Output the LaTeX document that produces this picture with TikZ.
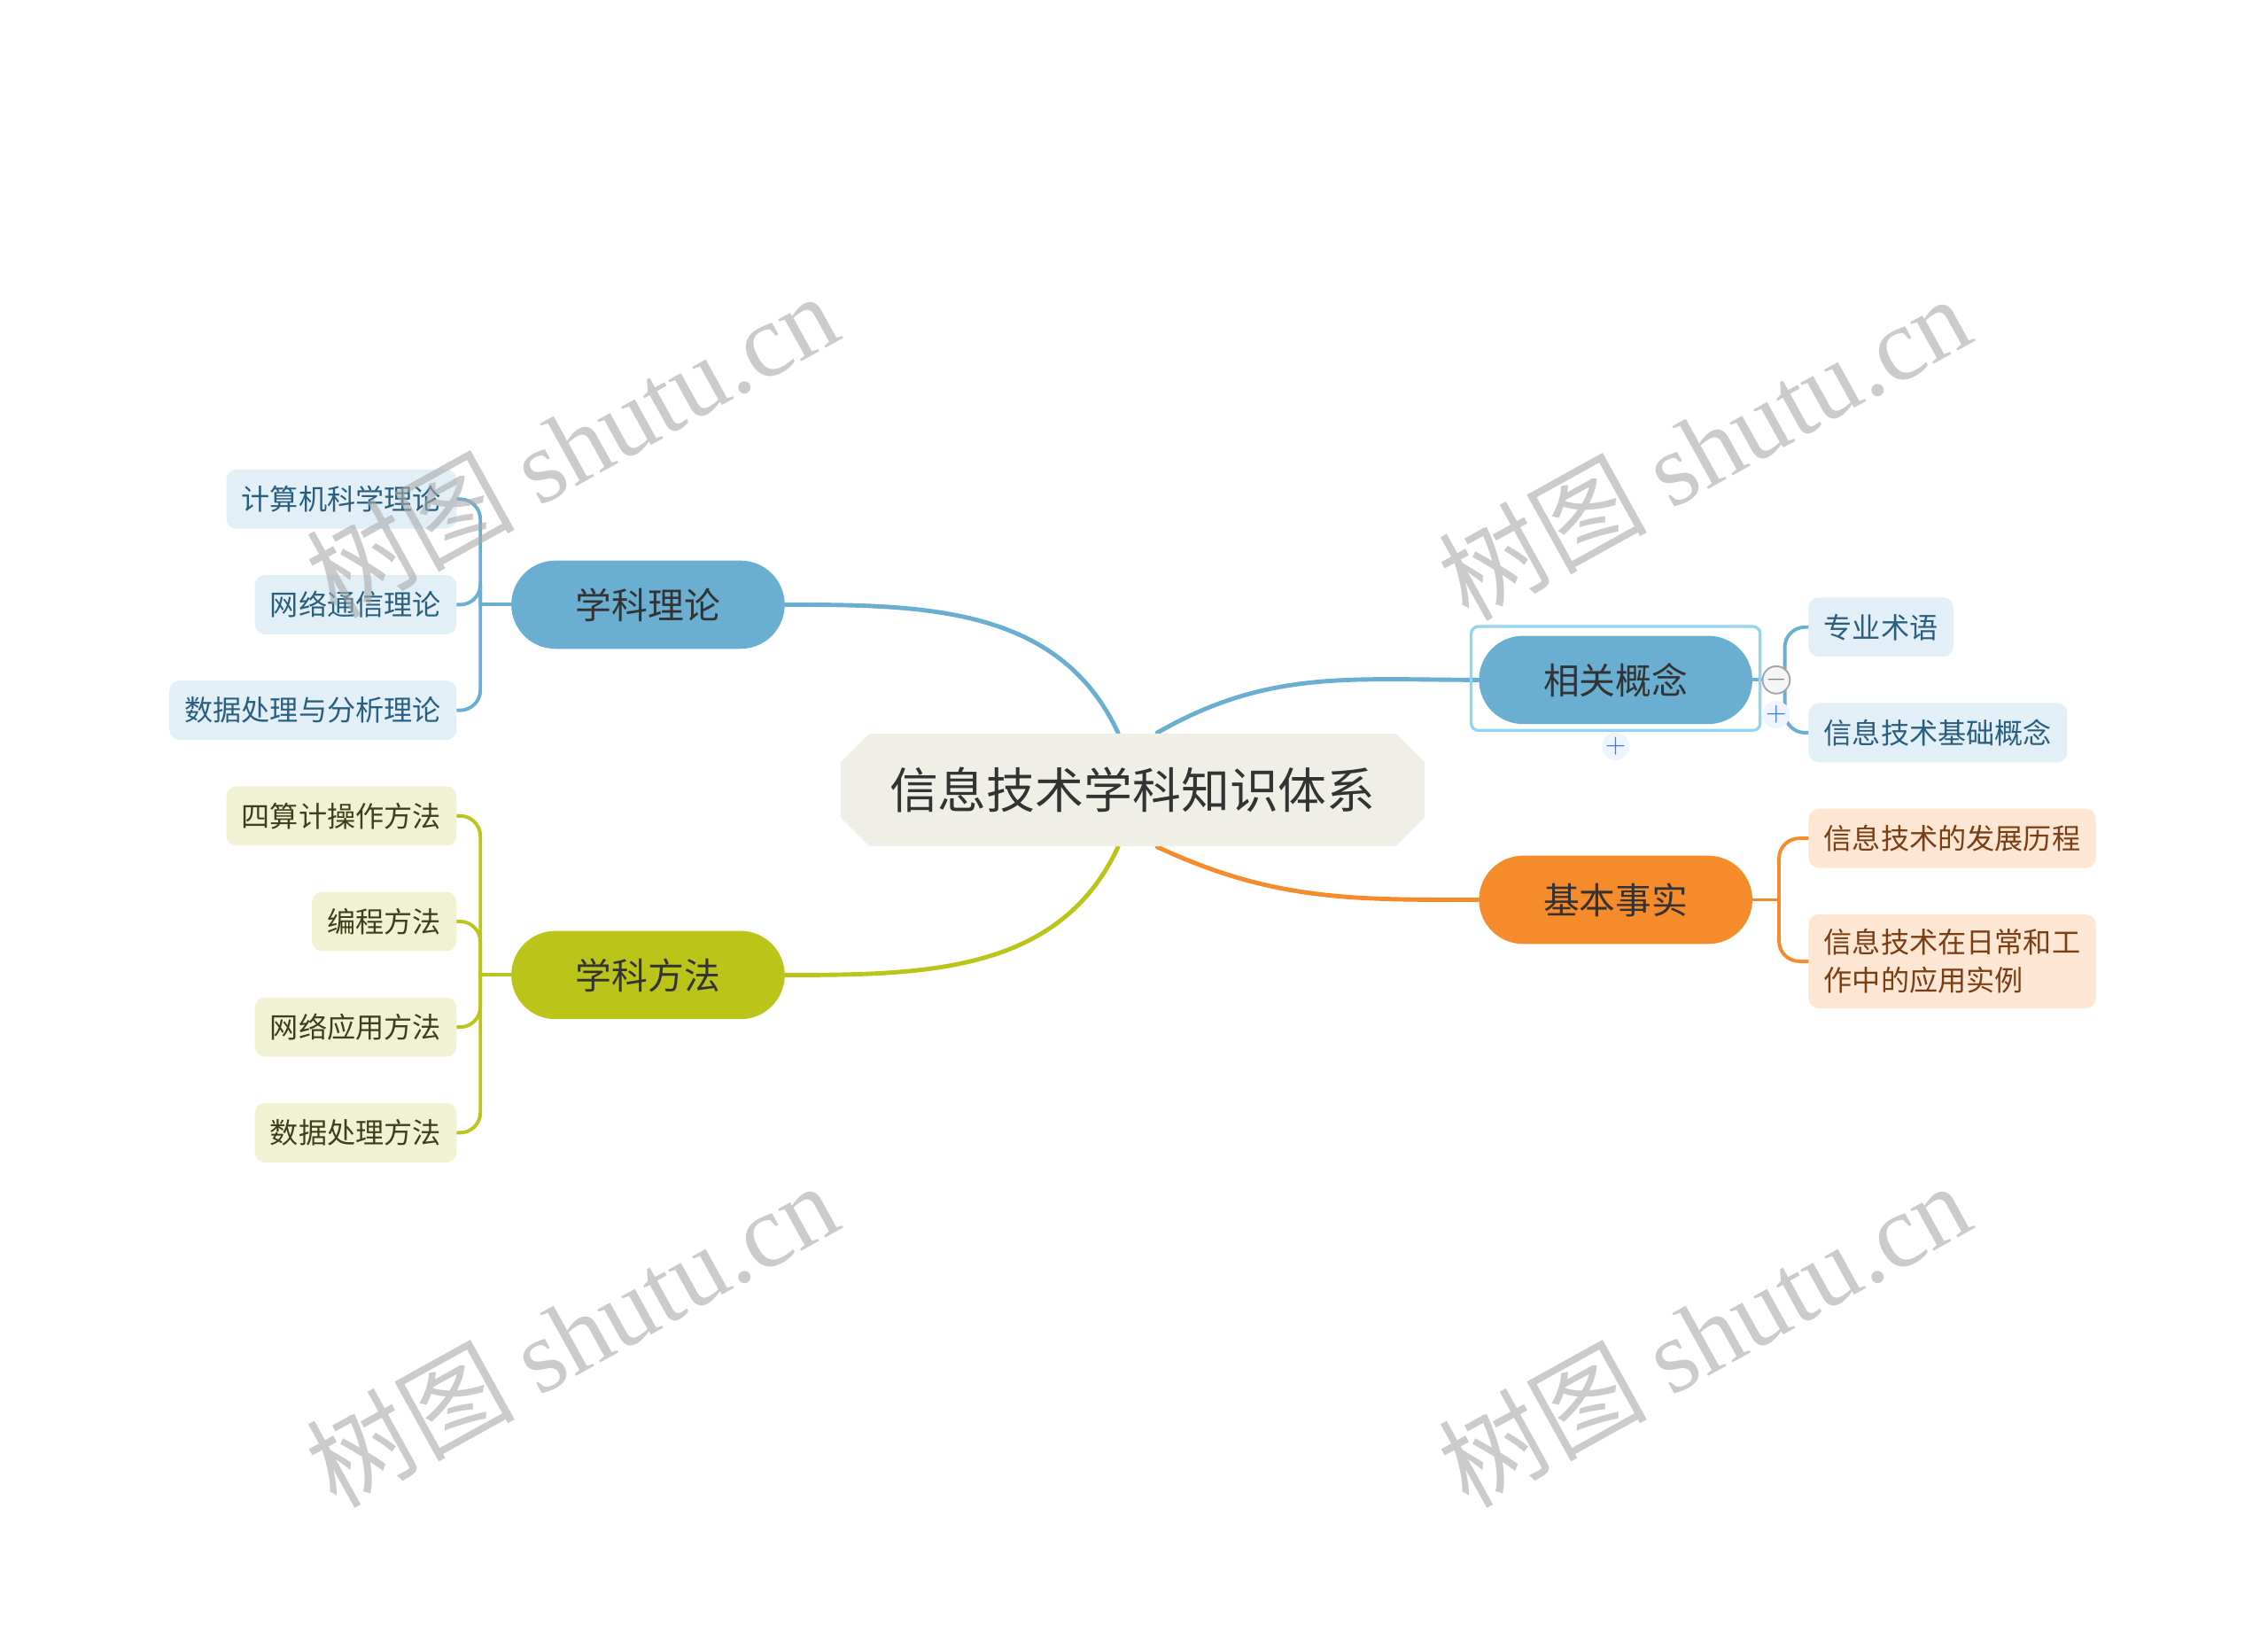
\documentclass[tikz,border=0pt]{standalone}
\usepackage{fontspec}
\usepackage{tikz}
\usetikzlibrary{calc,positioning,shapes.misc,backgrounds}
\newfontfamily\cjk{Noto Sans CJK SC}
\newfontfamily\wmserif{Liberation Serif}
\definecolor{rootfill}{HTML}{EFEFE8}
\definecolor{bluemain}{HTML}{6AAED1}
\definecolor{greenmain}{HTML}{BBC418}
\definecolor{orangemain}{HTML}{F68B2B}
\definecolor{blueleaf}{HTML}{E2EFF7}
\definecolor{greenleaf}{HTML}{F1F2D3}
\definecolor{orangeleaf}{HTML}{FDE6D4}
\definecolor{bluetext}{HTML}{2A5E7E}
\definecolor{greentext}{HTML}{3E3E1C}
\definecolor{orangetext}{HTML}{7A3E12}
\definecolor{maintext}{HTML}{333333}
\definecolor{selbox}{HTML}{90D4F8}
\definecolor{plusbg}{HTML}{EEF3FD}
\definecolor{plusblue}{HTML}{3B7DE0}
\definecolor{wmgray}{HTML}{A9A9A9}
\tikzset{
  root/.style={chamfered rectangle, chamfered rectangle xsep=5pt, chamfered rectangle ysep=5pt,
    fill=rootfill, minimum width=202pt, minimum height=39pt, inner sep=0pt,
    font=\cjk\fontsize{16.8}{20}\selectfont, text=maintext},
  main/.style={rounded corners=15.25pt, minimum width=94.5pt, minimum height=30.5pt, inner sep=0pt,
    font=\cjk\fontsize{12.5}{15}\selectfont, text=maintext},
  leaf/.style={rounded corners=3.5pt, minimum height=20.5pt, inner xsep=5.3pt, inner ysep=0pt,
    font=\cjk\fontsize{9.85}{13}\selectfont},
  bleaf/.style={leaf, fill=blueleaf, text=bluetext},
  gleaf/.style={leaf, fill=greenleaf, text=greentext},
  oleaf/.style={leaf, fill=orangeleaf, text=orangetext},
  link/.style={line width=1.5pt, line cap=round},
  fork/.style={line width=1.2pt, line cap=round, rounded corners=7pt},
  fold/.style={circle, draw=gray!70, fill=gray!8, line width=0.6pt, minimum size=9pt, inner sep=0pt,
    text=gray, font=\small},
  plus/.style={circle, fill=plusbg, minimum size=9pt, inner sep=0pt, text=plusblue, font=\small},
  wm/.style={text=wmgray, text opacity=0.6, rotate=29, font=\cjk\fontsize{36}{40}\selectfont},
}
\begin{document}
\begin{tikzpicture}[x=0.5pt, y=-0.5pt]
  \useasboundingbox (0,0) rectangle (1568,1128.8);
  % centre and main branches
  \node[root] (root) at (783,546) {信息技术学科知识体系};
  \node[main, fill=bluemain] (theory) at (448,418) {学科理论};
  \node[main, fill=greenmain] (method) at (448,674) {学科方法};
  \node[main, fill=bluemain] (concept) at (1117,470) {相关概念};
  \node[main, fill=orangemain] (fact) at (1117,622) {基本事实};
  % leaves
  \foreach \y/\txt [count=\i] in {345/计算机科学理论, 418/网络通信理论, 491/数据处理与分析理论}
    \node[bleaf, anchor=east] (theory\i) at (316,\y) {\txt};
  \foreach \y/\txt [count=\i] in {564/四算计操作方法, 637/编程方法, 710/网络应用方法, 783/数据处理方法}
    \node[gleaf, anchor=east] (method\i) at (316,\y) {\txt};
  \node[bleaf, anchor=west] (concept1) at (1250,433.5) {专业术语};
  \node[bleaf, anchor=west] (concept2) at (1250,506.5) {信息技术基础概念};
  \node[oleaf, anchor=west] (fact1) at (1250,579.5) {信息技术的发展历程};
  \node[oleaf, anchor=west, minimum height=32.5pt, align=left] (fact2) at (1250,664.5)
    {信息技术在日常和工\\作中的应用实例};
  % selection frame and buttons
  \draw[selbox, line width=1pt, rounded corners=2.5pt]
    ($(concept.north west)+(-5,-6)$) rectangle ($(concept.south east)+(5,4)$);
  \node[fold] (foldc) at (1228,470) {$-$};
  \node[plus] (addc) at (1228,494) {+};
  \node[plus] (adds) at (1117,516) {+};
  % connectors
  \begin{scope}[on background layer]
    \draw[link, bluemain] ($(root.north)+(-10,0)$) to[out=115, in=0] (theory.east);
    \draw[link, bluemain] ($(root.north)+(17,0)$) to[out=30, in=180] (concept.west);
    \draw[link, greenmain] ($(root.south)+(-10,0)$) to[out=-115, in=0] (method.east);
    \draw[link, orangemain] ($(root.south)+(17,0)$) to[out=-25, in=180] (fact.west);
    \coordinate (tj) at ($(theory.west)+(-21,0)$);
    \draw[fork, bluemain] (theory.west) -- (tj);
    \foreach \i in {1,2,3}
      \draw[fork, bluemain] (tj) |- (theory\i.east);
    \coordinate (mj) at ($(method.west)+(-21,0)$);
    \draw[fork, greenmain] (method.west) -- (mj);
    \foreach \i in {1,...,4}
      \draw[fork, greenmain] (mj) |- (method\i.east);
    \coordinate (cj) at ($(concept.east)+(22,0)$);
    \draw[fork, bluemain] (concept.east) -- (cj);
    \foreach \i in {1,2}
      \draw[fork, bluemain] (cj) |- (concept\i.west);
    \coordinate (fj) at ($(fact.east)+(18,0)$);
    \draw[fork, orangemain] (fact.east) -- (fj);
    \foreach \i in {1,2}
      \draw[fork, orangemain] (fj) |- (fact\i.west);
  \end{scope}
  % watermarks
  \foreach \wx/\wy [count=\k] in {395/307, 1178/309, 395/922, 1178/922}
    \node[wm] (wm\k) at (\wx,\wy) {树图 {\wmserif shutu.cn}};
\end{tikzpicture}
\end{document}
